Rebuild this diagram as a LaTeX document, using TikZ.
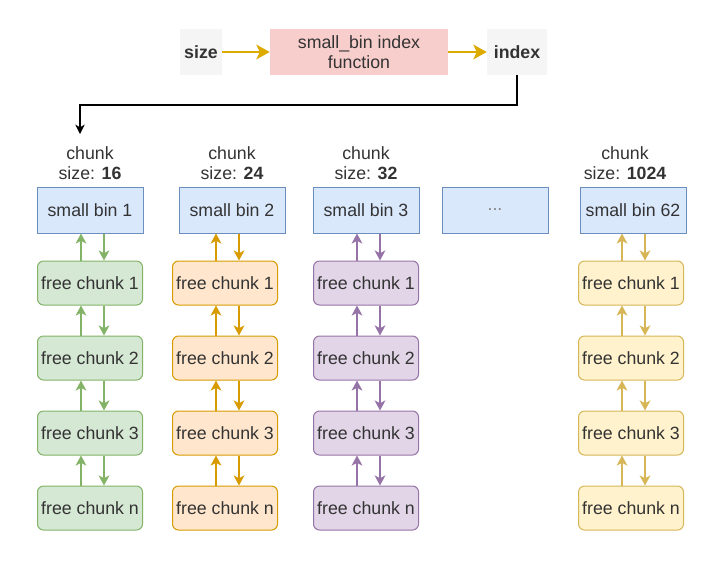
\documentclass[tikz,border=0pt]{standalone}
\usepackage{fontspec}
\setmainfont{Liberation Sans}
\usetikzlibrary{arrows.meta}
\definecolor{binfill}{HTML}{DAE8FC}
\definecolor{binline}{HTML}{6C8EBF}
\definecolor{greenfill}{HTML}{D5E8D4}
\definecolor{greenline}{HTML}{82B366}
\definecolor{orangefill}{HTML}{FFE6CC}
\definecolor{orangeline}{HTML}{D79B00}
\definecolor{purplefill}{HTML}{E1D5E7}
\definecolor{purpleline}{HTML}{9673A6}
\definecolor{yellowfill}{HTML}{FFF2CC}
\definecolor{yellowline}{HTML}{D6B656}
\definecolor{pinkfill}{HTML}{F8CECC}
\definecolor{greyfill}{HTML}{F5F5F5}
\definecolor{txt}{HTML}{333333}
\tikzset{
  bin/.style={draw=binline, fill=binfill, line width=0.75pt, minimum width=79.5pt, minimum height=34.5pt, inner sep=0pt, text=txt},
  chunkbox/.style={draw=#1line, fill=#1fill, line width=0.75pt, rounded corners=4.5pt, minimum width=78.75pt, minimum height=33pt, inner sep=0pt, text=txt},
  ptr/.style={draw=#1line, line width=1.4pt, -{Stealth[length=7.5pt,width=8pt,inset=2pt]}},
  flow/.style={draw=orangeline!85!yellow, line width=2.2pt, -{Stealth[length=10pt,width=11pt,inset=2.5pt]}},
  plain/.style={fill=greyfill, minimum height=34pt, inner sep=0pt, text=txt, font=\fontsize{13.3}{15}\selectfont\bfseries}
}
\begin{document}
\begin{tikzpicture}[x=0.75pt,y=-0.75pt,font=\fontsize{13.3}{15}\selectfont]
\useasboundingbox (0,0) rectangle (727,569);
% index lookup
\node[plain, minimum width=31.5pt] (size) at (201,52) {size};
\node[fill=pinkfill, minimum width=133.5pt, minimum height=34pt, inner sep=0pt, align=center, text=txt] (func) at (359,52) {small\_bin index\\function};
\node[plain, minimum width=45pt] (index) at (517,52) {index};
\draw[flow] (size) -- (func);
\draw[flow] (func) -- (index);
\coordinate (drop) at (80,134);
\draw[line width=1pt, -{Stealth[length=7pt,width=7pt,inset=2pt]}] (index.south) -- ++(0,30) -| (drop);
% bins and their free lists
\foreach \lx/\bx/\cx/\col/\num/\sz [count=\i] in {90/90/90/green/1/16, 232/232/225/orange/2/24, 366/366/366/purple/3/32, 625/633/631/yellow/62/1024}{
  \node[align=center, text=txt, inner sep=0pt] (lab\i) at (\lx,163) {chunk\\size: \textbf{\sz}};
  \node[bin, alias=c\i-0] (bin\i) at (\bx,210) {small bin \num};
  \foreach \t [count=\j, remember=\j as \p (initially 0)] in {1,2,3,n}{
    \node[chunkbox=\col] (c\i-\j) at (\cx,208+75*\j) {free chunk \t};
    \draw[ptr=\col] ([xshift=-6.75pt]c\i-\j.north) -- ([xshift=-6.75pt]c\i-\j.north |- c\i-\p.south);
    \draw[ptr=\col] ([xshift=10.5pt]c\i-\j.north |- c\i-\p.south) -- ([xshift=10.5pt]c\i-\j.north);
  }
}
\node[bin] (dots) at (495,210) {\textcolor{gray}{...}};
\end{tikzpicture}
\end{document}
